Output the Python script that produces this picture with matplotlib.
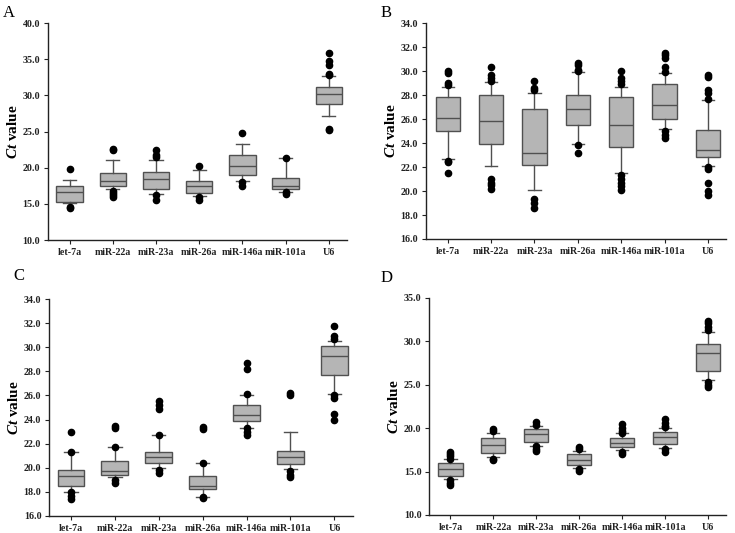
import matplotlib
matplotlib.use("Agg")
import matplotlib.pyplot as plt

plt.rcParams['font.family'] = ['Liberation Serif', 'DejaVu Serif']
plt.rcParams['mathtext.fontset'] = 'custom'
plt.rcParams['mathtext.it'] = 'Liberation Serif:italic:bold'
plt.rcParams['mathtext.rm'] = 'Liberation Serif:bold'

categories = ['let-7a', 'miR-22a', 'miR-23a', 'miR-26a', 'miR-146a', 'miR-101a', 'U6']

# each panel: q1, median, q3, whisker low, whisker high, outliers
A_q1 = [15.2, 17.4, 17.1, 16.5, 19.0, 17.0, 28.8]
A_med = [16.7, 18.1, 18.5, 17.5, 20.2, 17.5, 30.2]
A_q3 = [17.5, 19.3, 19.4, 18.1, 21.8, 18.6, 31.2]
A_wlo = [15.1, 17.0, 16.3, 16.1, 18.1, 16.7, 27.2]
A_whi = [18.3, 21.1, 21.1, 19.7, 23.3, 21.3, 32.7]
A_out = [[19.8, 14.6, 14.4], [22.6, 22.5, 16.8, 16.5, 16.2, 15.9],
         [22.4, 21.8, 21.5, 16.2, 15.6], [20.2, 15.9, 15.6],
         [24.8, 18.0, 17.4], [21.4, 16.6, 16.4],
         [35.9, 34.8, 34.2, 33.0, 32.8, 25.3, 25.2]]

B_q1 = [25.0, 23.9, 22.2, 25.5, 23.7, 26.0, 22.8]
B_med = [26.1, 25.8, 23.2, 26.8, 25.5, 27.2, 23.4]
B_q3 = [27.8, 28.0, 26.8, 28.0, 27.8, 28.9, 25.1]
B_wlo = [22.7, 22.1, 20.1, 23.9, 21.5, 25.2, 22.1]
B_whi = [28.7, 29.1, 28.2, 29.9, 28.7, 29.8, 27.6]
B_out = [[30.0, 29.8, 29.0, 28.8, 22.5, 22.4, 21.5],
         [30.3, 29.7, 29.4, 29.2, 21.0, 20.7, 20.5, 20.2],
         [29.2, 28.6, 28.4, 19.3, 19.0, 18.6],
         [30.7, 30.5, 30.1, 30.0, 23.8, 23.2],
         [30.0, 29.4, 29.2, 28.9, 21.3, 21.0, 20.7, 20.4, 20.1],
         [31.5, 31.3, 31.1, 30.3, 29.9, 25.0, 24.7, 24.4],
         [29.7, 29.5, 28.4, 28.2, 27.7, 22.0, 21.8, 20.7, 20.0, 19.7]]

C_q1 = [18.5, 19.4, 20.4, 18.2, 23.9, 20.3, 27.7]
C_med = [19.3, 19.7, 20.9, 18.5, 24.4, 20.9, 29.3]
C_q3 = [19.8, 20.6, 21.3, 19.3, 25.2, 21.4, 30.1]
C_wlo = [18.0, 19.2, 20.0, 17.6, 23.3, 19.9, 26.1]
C_whi = [21.3, 21.7, 22.7, 20.4, 26.0, 23.0, 30.5]
C_out = [[23.0, 21.3, 18.0, 17.7, 17.4], [23.5, 23.3, 21.7, 19.0, 18.7],
         [25.5, 25.2, 24.9, 22.7, 19.8, 19.6], [23.4, 23.2, 20.4, 17.6, 17.5],
         [28.7, 28.2, 26.1, 23.3, 23.0, 22.7], [26.2, 26.0, 19.7, 19.4, 19.2],
         [31.8, 30.9, 30.7, 26.0, 25.8, 24.5, 24.0]]

D_q1 = [14.5, 17.1, 18.4, 15.8, 17.8, 18.2, 26.6]
D_med = [15.3, 18.1, 19.3, 16.3, 18.3, 19.0, 28.7]
D_q3 = [16.0, 18.9, 19.9, 17.0, 18.9, 19.6, 29.7]
D_wlo = [14.2, 16.7, 18.0, 15.4, 17.5, 17.7, 25.6]
D_whi = [16.4, 19.5, 20.2, 17.4, 19.4, 20.0, 31.1]
D_out = [[17.2, 17.0, 16.8, 16.5, 14.0, 13.7, 13.4], [19.9, 19.7, 16.5, 16.3],
         [20.7, 20.4, 17.9, 17.6, 17.4], [17.8, 17.6, 15.3, 15.1],
         [20.5, 20.0, 19.7, 19.5, 17.3, 17.0], [21.0, 20.6, 20.3, 20.1, 17.6, 17.3],
         [32.4, 32.1, 31.7, 31.3, 25.3, 25.0, 24.7]]

A_yticks = [10, 15, 20, 25, 30, 35, 40]
B_yticks = [16, 18, 20, 22, 24, 26, 28, 30, 32, 34]
C_yticks = [16, 18, 20, 22, 24, 26, 28, 30, 32, 34]
D_yticks = [10, 15, 20, 25, 30, 35]

panels = [
    ('A', [0.0653, 0.5497, 0.4067, 0.4071], (3, 5), A_q1, A_med, A_q3, A_wlo, A_whi, A_out, A_yticks, 0.61),
    ('B', [0.5796, 0.5516, 0.4084, 0.4052], (381, 5), B_q1, B_med, B_q3, B_wlo, B_whi, B_out, B_yticks, 0.56),
    ('C', [0.0667, 0.0319, 0.4133, 0.4071], (13, 268), C_q1, C_med, C_q3, C_wlo, C_whi, C_out, C_yticks, 0.61),
    ('D', [0.5837, 0.0338, 0.4043, 0.4072], (381, 270), D_q1, D_med, D_q3, D_wlo, D_whi, D_out, D_yticks, 0.56),
]

fig = plt.figure(figsize=(7.35, 5.33), dpi=100)
W, H = 735, 533
box_fill = '#b5b5b5'
edge = '#505050'

for label, rect, lpos, q1, med, q3, wlo, whi, out, yt, bw in panels:
    ax = fig.add_axes(rect)
    stats = []
    for i in range(len(categories)):
        stats.append(dict(label=categories[i], q1=q1[i], med=med[i], q3=q3[i],
                          whislo=wlo[i], whishi=whi[i], fliers=out[i]))
    ax.bxp(stats, positions=range(1, len(categories) + 1), widths=bw,
           patch_artist=True, showfliers=True,
           boxprops=dict(facecolor=box_fill, edgecolor=edge, linewidth=1.0),
           medianprops=dict(color=edge, linewidth=1.0),
           whiskerprops=dict(color=edge, linewidth=1.0),
           capprops=dict(color=edge, linewidth=1.0),
           flierprops=dict(marker='o', markerfacecolor='black', markeredgecolor='black',
                           markersize=4.5, linestyle='none'))
    ax.set_xlim(0.5, 7.42)
    ax.set_ylim(yt[0], yt[-1])
    ax.set_yticks(yt)
    ax.set_yticklabels([f'{v:.1f}' for v in yt], fontsize=7.2, fontweight='bold')
    ax.set_xticks(range(1, len(categories) + 1))
    ax.set_xticklabels(categories, fontsize=7.2, fontweight='bold')
    for s in ['top', 'right']:
        ax.spines[s].set_visible(False)
    for s in ['left', 'bottom']:
        ax.spines[s].set_linewidth(1.0)
        ax.spines[s].set_color('#222222')
    ax.tick_params(axis='both', direction='out', length=3, width=0.8, pad=2.5, colors='#222222')
    ax.set_ylabel(r'$Ct$ value', fontsize=11, fontweight='bold', labelpad=2)
    fig.text(lpos[0] / W, 1 - lpos[1] / H, label, fontsize=12, ha='left', va='top')

fig.savefig('out.png', dpi=100)
